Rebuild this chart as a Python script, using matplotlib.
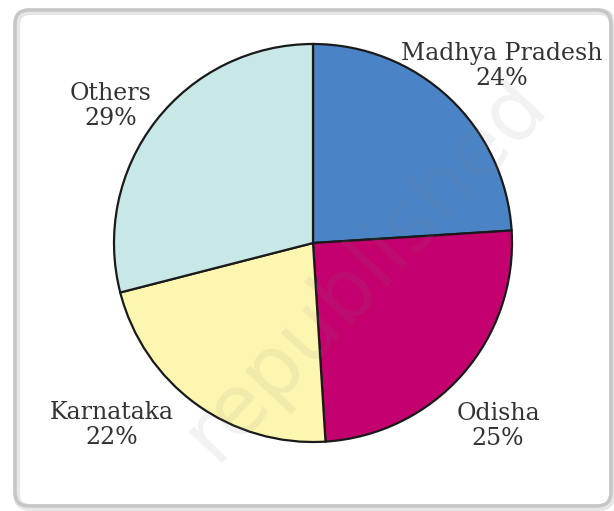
import matplotlib
matplotlib.use("Agg")
import matplotlib.pyplot as plt
from matplotlib.patches import FancyBboxPatch

categories = ["Madhya Pradesh", "Odisha", "Karnataka", "Others"]
shares = [24, 25, 22, 29]
colors = ["#4a84c6", "#c4006f", "#fdf6b0", "#c7e8e7"]
label_pos = [(502, 66), (498, 426), (112, 425), (111, 106)]  # image px (x, y centre of 2-line label)

W, H = 614, 511
fig = plt.figure(figsize=(W / 100, H / 100), dpi=100)
ax = fig.add_axes([0, 0, 1, 1])
ax.set_xlim(0, W)
ax.set_ylim(0, H)
ax.set_aspect("equal")
ax.axis("off")

# frame
for lw, col, off in [(5, "#e6e6e6", 1.5), (2.5, "#c6c6c6", 0)]:
    box = FancyBboxPatch((15 + off, H - 506 - off), 596, 496,
                         boxstyle="round,pad=0,rounding_size=14",
                         fc="none", ec=col, lw=lw, zorder=1)
    ax.add_patch(box)

cx, cy, r = 313, H - 243, 199
wedges, _ = ax.pie(shares, colors=colors, startangle=90, counterclock=False,
                   center=(cx, cy), radius=r, frame=True,
                   wedgeprops=dict(edgecolor="#1a1a1a", linewidth=1.6))
for w in wedges:
    w.set_zorder(2)
ax.set_xlim(0, W)
ax.set_ylim(0, H)
ax.axis("off")

for cat, val, (x, y) in zip(categories, shares, label_pos):
    ax.text(x, H - y, f"{cat}\n{val}%", ha="center", va="center",
            fontsize=17, family="DejaVu Serif", color="#333333",
            linespacing=1.1, zorder=4)

# faint watermark
ax.text(365, H - 268, "republished", rotation=47, ha="center", va="center",
        fontsize=60, family="DejaVu Sans", color="#808080", alpha=0.1, zorder=3)

fig.savefig("out.png", dpi=100)
